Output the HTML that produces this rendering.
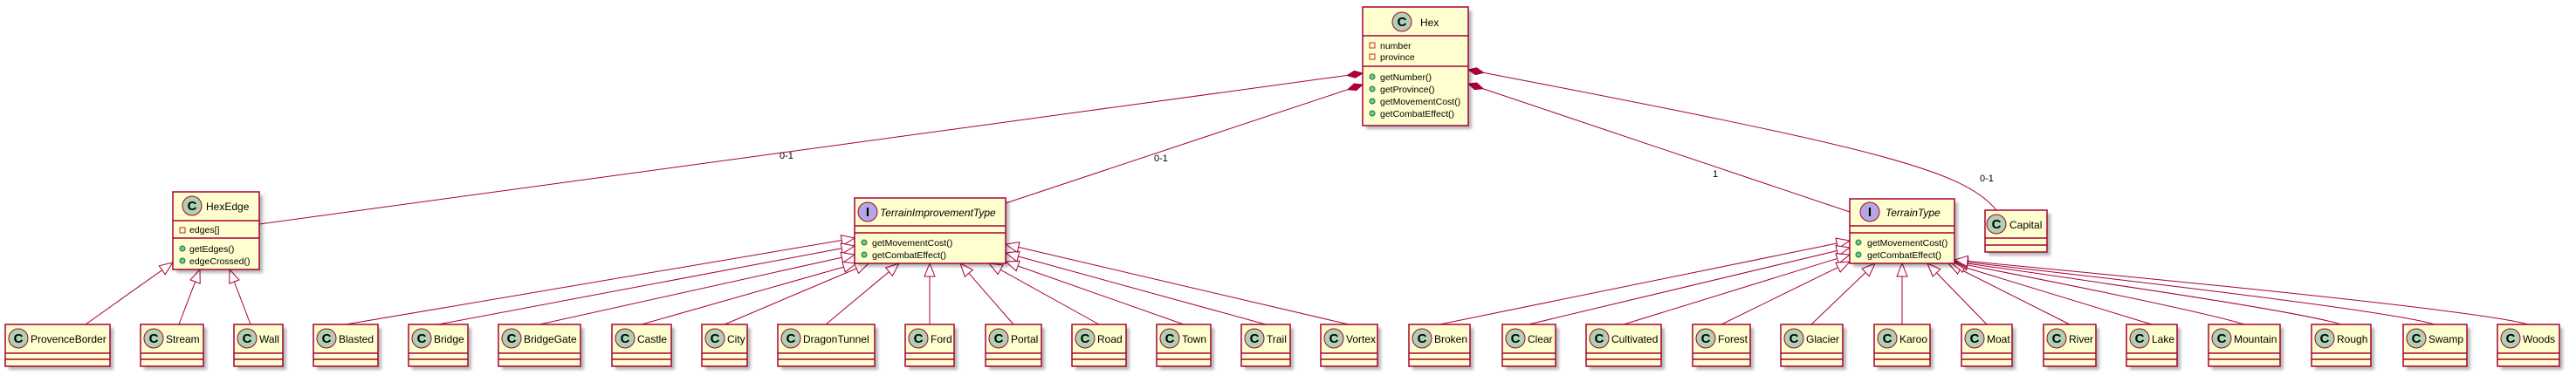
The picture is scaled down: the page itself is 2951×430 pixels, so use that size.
<!DOCTYPE html>
<html><head><meta charset="utf-8">
<style>
html,body{margin:0;padding:0;background:#fff;}
svg{display:block;}
.b{fill:#FEFECE;stroke:#A80036;stroke-width:1.5;}
.s{fill:#000;opacity:.28;filter:url(#bl);}
.l{stroke:#A80036;stroke-width:1.5;}
.ci{fill:#ADD1B2;stroke:#A80036;stroke-width:1;}
.ii{fill:#B4A7E5;stroke:#A80036;stroke-width:1;}
.ct{font:bold 15px "Liberation Sans",sans-serif;text-anchor:middle;fill:#000;}
.n{font:12px "Liberation Sans",sans-serif;fill:#000;}
.it{font:italic 12px "Liberation Sans",sans-serif;fill:#000;}
.m{font:10.5px "Liberation Sans",sans-serif;fill:#000;}
.lab{font:11px "Liberation Sans",sans-serif;fill:#000;}
.gd{fill:#84BE84;stroke:#038048;stroke-width:1;}
.rs{fill:none;stroke:#C82930;stroke-width:1;}
.e{fill:none;stroke:#A80036;stroke-width:1;}
</style></head><body>
<svg id="d" width="2951" height="430" xmlns="http://www.w3.org/2000/svg">
<defs><filter id="bl" x="-10%" y="-10%" width="130%" height="130%"><feGaussianBlur stdDeviation="1.5"/></filter></defs>
<g id="edges"></g>

<rect class="s" x="1565" y="12" width="121" height="136"/>
<rect class="b" x="1561" y="8" width="121" height="136"/>
<line class="l" x1="1561" y1="41" x2="1682" y2="41"/>
<line class="l" x1="1561" y1="76" x2="1682" y2="76"/>
<circle class="ci" cx="1606" cy="25" r="11"/><text class="ct" x="1606" y="30">C</text>
<text class="n" x="1627" y="30">Hex</text>
<rect class="rs" x="1569" y="49" width="6" height="6"/><text class="m" x="1581" y="56">number</text>
<rect class="rs" x="1569" y="62" width="6" height="6"/><text class="m" x="1581" y="69">province</text>
<circle class="gd" cx="1572" cy="88" r="3"/><text class="m" x="1581" y="92">getNumber()</text>
<circle class="gd" cx="1572" cy="102" r="3"/><text class="m" x="1581" y="106">getProvince()</text>
<circle class="gd" cx="1572" cy="116" r="3"/><text class="m" x="1581" y="120">getMovementCost()</text>
<circle class="gd" cx="1572" cy="130" r="3"/><text class="m" x="1581" y="134">getCombatEffect()</text>

<rect class="s" x="202" y="224" width="99" height="89"/>
<rect class="b" x="198" y="220" width="99" height="89"/>
<line class="l" x1="198" y1="253" x2="297" y2="253"/>
<line class="l" x1="198" y1="273" x2="297" y2="273"/>
<circle class="ci" cx="220" cy="236" r="11"/><text class="ct" x="220" y="241">C</text>
<text class="n" x="236" y="241">HexEdge</text>
<rect class="rs" x="206" y="261" width="6" height="6"/><text class="m" x="217" y="267">edges[]</text>
<circle class="gd" cx="209" cy="285" r="3"/><text class="m" x="217" y="289">getEdges()</text>
<circle class="gd" cx="209" cy="299" r="3"/><text class="m" x="217" y="303">edgeCrossed()</text>

<rect class="s" x="983" y="231" width="173" height="75"/>
<rect class="b" x="979" y="227" width="173" height="75"/>
<line class="l" x1="979" y1="259" x2="1152" y2="259"/>
<line class="l" x1="979" y1="267" x2="1152" y2="267"/>
<circle class="ii" cx="994" cy="243" r="11"/><text class="ct" x="994" y="248">I</text>
<text class="it" x="1008" y="248">TerrainImprovementType</text>
<circle class="gd" cx="990" cy="278" r="3"/><text class="m" x="999" y="282">getMovementCost()</text>
<circle class="gd" cx="990" cy="292" r="3"/><text class="m" x="999" y="296">getCombatEffect()</text>

<rect class="s" x="2123" y="232" width="120" height="74"/>
<rect class="b" x="2119" y="228" width="120" height="74"/>
<line class="l" x1="2119" y1="259" x2="2239" y2="259"/>
<line class="l" x1="2119" y1="267" x2="2239" y2="267"/>
<circle class="ii" cx="2142" cy="243" r="11"/><text class="ct" x="2142" y="248">I</text>
<text class="it" x="2160" y="248">TerrainType</text>
<circle class="gd" cx="2129" cy="278" r="3"/><text class="m" x="2139" y="282">getMovementCost()</text>
<circle class="gd" cx="2129" cy="292" r="3"/><text class="m" x="2139" y="296">getCombatEffect()</text>

<rect class="s" x="2278" y="245" width="71" height="48"/>
<rect class="b" x="2274" y="241" width="71" height="48"/>
<line class="l" x1="2274" y1="273" x2="2345" y2="273"/>
<line class="l" x1="2274" y1="281" x2="2345" y2="281"/>
<circle class="ci" cx="2287" cy="257" r="11"/><text class="ct" x="2287" y="262">C</text>
<text class="n" x="2302" y="262">Capital</text>

<text class="lab" x="893" y="182">0-1</text>
<text class="lab" x="1322" y="185">0-1</text>
<text class="lab" x="1962" y="203">1</text>
<text class="lab" x="2268" y="208">0-1</text>

<g id="kids">
<g transform="translate(6,372)"><rect class="s" x="4" y="4" width="120" height="48"/><rect class="b" width="120" height="48"/><line class="l" x1="0" y1="33" x2="120" y2="33"/><line class="l" x1="0" y1="40" x2="120" y2="40"/><circle class="ci" cx="15" cy="16" r="11"/><text class="ct" x="15" y="21">C</text><text class="n" x="29" y="21">ProvenceBorder</text></g>
<g transform="translate(161,372)"><rect class="s" x="4" y="4" width="72" height="48"/><rect class="b" width="72" height="48"/><line class="l" x1="0" y1="33" x2="72" y2="33"/><line class="l" x1="0" y1="40" x2="72" y2="40"/><circle class="ci" cx="15" cy="16" r="11"/><text class="ct" x="15" y="21">C</text><text class="n" x="29" y="21">Stream</text></g>
<g transform="translate(268,372)"><rect class="s" x="4" y="4" width="56" height="48"/><rect class="b" width="56" height="48"/><line class="l" x1="0" y1="33" x2="56" y2="33"/><line class="l" x1="0" y1="40" x2="56" y2="40"/><circle class="ci" cx="15" cy="16" r="11"/><text class="ct" x="15" y="21">C</text><text class="n" x="29" y="21">Wall</text></g>
<g transform="translate(359,372)"><rect class="s" x="4" y="4" width="74" height="48"/><rect class="b" width="74" height="48"/><line class="l" x1="0" y1="33" x2="74" y2="33"/><line class="l" x1="0" y1="40" x2="74" y2="40"/><circle class="ci" cx="15" cy="16" r="11"/><text class="ct" x="15" y="21">C</text><text class="n" x="29" y="21">Blasted</text></g>
<g transform="translate(468,372)"><rect class="s" x="4" y="4" width="68" height="48"/><rect class="b" width="68" height="48"/><line class="l" x1="0" y1="33" x2="68" y2="33"/><line class="l" x1="0" y1="40" x2="68" y2="40"/><circle class="ci" cx="15" cy="16" r="11"/><text class="ct" x="15" y="21">C</text><text class="n" x="29" y="21">Bridge</text></g>
<g transform="translate(571,372)"><rect class="s" x="4" y="4" width="94" height="48"/><rect class="b" width="94" height="48"/><line class="l" x1="0" y1="33" x2="94" y2="33"/><line class="l" x1="0" y1="40" x2="94" y2="40"/><circle class="ci" cx="15" cy="16" r="11"/><text class="ct" x="15" y="21">C</text><text class="n" x="29" y="21">BridgeGate</text></g>
<g transform="translate(701,372)"><rect class="s" x="4" y="4" width="68" height="48"/><rect class="b" width="68" height="48"/><line class="l" x1="0" y1="33" x2="68" y2="33"/><line class="l" x1="0" y1="40" x2="68" y2="40"/><circle class="ci" cx="15" cy="16" r="11"/><text class="ct" x="15" y="21">C</text><text class="n" x="29" y="21">Castle</text></g>
<g transform="translate(804,372)"><rect class="s" x="4" y="4" width="52" height="48"/><rect class="b" width="52" height="48"/><line class="l" x1="0" y1="33" x2="52" y2="33"/><line class="l" x1="0" y1="40" x2="52" y2="40"/><circle class="ci" cx="15" cy="16" r="11"/><text class="ct" x="15" y="21">C</text><text class="n" x="29" y="21">City</text></g>
<g transform="translate(891,372)"><rect class="s" x="4" y="4" width="111" height="48"/><rect class="b" width="111" height="48"/><line class="l" x1="0" y1="33" x2="111" y2="33"/><line class="l" x1="0" y1="40" x2="111" y2="40"/><circle class="ci" cx="15" cy="16" r="11"/><text class="ct" x="15" y="21">C</text><text class="n" x="29" y="21">DragonTunnel</text></g>
<g transform="translate(1037,372)"><rect class="s" x="4" y="4" width="56" height="48"/><rect class="b" width="56" height="48"/><line class="l" x1="0" y1="33" x2="56" y2="33"/><line class="l" x1="0" y1="40" x2="56" y2="40"/><circle class="ci" cx="15" cy="16" r="11"/><text class="ct" x="15" y="21">C</text><text class="n" x="29" y="21">Ford</text></g>
<g transform="translate(1129,372)"><rect class="s" x="4" y="4" width="64" height="48"/><rect class="b" width="64" height="48"/><line class="l" x1="0" y1="33" x2="64" y2="33"/><line class="l" x1="0" y1="40" x2="64" y2="40"/><circle class="ci" cx="15" cy="16" r="11"/><text class="ct" x="15" y="21">C</text><text class="n" x="29" y="21">Portal</text></g>
<g transform="translate(1228,372)"><rect class="s" x="4" y="4" width="62" height="48"/><rect class="b" width="62" height="48"/><line class="l" x1="0" y1="33" x2="62" y2="33"/><line class="l" x1="0" y1="40" x2="62" y2="40"/><circle class="ci" cx="15" cy="16" r="11"/><text class="ct" x="15" y="21">C</text><text class="n" x="29" y="21">Road</text></g>
<g transform="translate(1325,372)"><rect class="s" x="4" y="4" width="62" height="48"/><rect class="b" width="62" height="48"/><line class="l" x1="0" y1="33" x2="62" y2="33"/><line class="l" x1="0" y1="40" x2="62" y2="40"/><circle class="ci" cx="15" cy="16" r="11"/><text class="ct" x="15" y="21">C</text><text class="n" x="29" y="21">Town</text></g>
<g transform="translate(1422,372)"><rect class="s" x="4" y="4" width="56" height="48"/><rect class="b" width="56" height="48"/><line class="l" x1="0" y1="33" x2="56" y2="33"/><line class="l" x1="0" y1="40" x2="56" y2="40"/><circle class="ci" cx="15" cy="16" r="11"/><text class="ct" x="15" y="21">C</text><text class="n" x="29" y="21">Trail</text></g>
<g transform="translate(1513,372)"><rect class="s" x="4" y="4" width="65" height="48"/><rect class="b" width="65" height="48"/><line class="l" x1="0" y1="33" x2="65" y2="33"/><line class="l" x1="0" y1="40" x2="65" y2="40"/><circle class="ci" cx="15" cy="16" r="11"/><text class="ct" x="15" y="21">C</text><text class="n" x="29" y="21">Vortex</text></g>
<g transform="translate(1614,372)"><rect class="s" x="4" y="4" width="70" height="48"/><rect class="b" width="70" height="48"/><line class="l" x1="0" y1="33" x2="70" y2="33"/><line class="l" x1="0" y1="40" x2="70" y2="40"/><circle class="ci" cx="15" cy="16" r="11"/><text class="ct" x="15" y="21">C</text><text class="n" x="29" y="21">Broken</text></g>
<g transform="translate(1721,372)"><rect class="s" x="4" y="4" width="61" height="48"/><rect class="b" width="61" height="48"/><line class="l" x1="0" y1="33" x2="61" y2="33"/><line class="l" x1="0" y1="40" x2="61" y2="40"/><circle class="ci" cx="15" cy="16" r="11"/><text class="ct" x="15" y="21">C</text><text class="n" x="29" y="21">Clear</text></g>
<g transform="translate(1817,372)"><rect class="s" x="4" y="4" width="86" height="48"/><rect class="b" width="86" height="48"/><line class="l" x1="0" y1="33" x2="86" y2="33"/><line class="l" x1="0" y1="40" x2="86" y2="40"/><circle class="ci" cx="15" cy="16" r="11"/><text class="ct" x="15" y="21">C</text><text class="n" x="29" y="21">Cultivated</text></g>
<g transform="translate(1939,372)"><rect class="s" x="4" y="4" width="66" height="48"/><rect class="b" width="66" height="48"/><line class="l" x1="0" y1="33" x2="66" y2="33"/><line class="l" x1="0" y1="40" x2="66" y2="40"/><circle class="ci" cx="15" cy="16" r="11"/><text class="ct" x="15" y="21">C</text><text class="n" x="29" y="21">Forest</text></g>
<g transform="translate(2040,372)"><rect class="s" x="4" y="4" width="71" height="48"/><rect class="b" width="71" height="48"/><line class="l" x1="0" y1="33" x2="71" y2="33"/><line class="l" x1="0" y1="40" x2="71" y2="40"/><circle class="ci" cx="15" cy="16" r="11"/><text class="ct" x="15" y="21">C</text><text class="n" x="29" y="21">Glacier</text></g>
<g transform="translate(2147,372)"><rect class="s" x="4" y="4" width="64" height="48"/><rect class="b" width="64" height="48"/><line class="l" x1="0" y1="33" x2="64" y2="33"/><line class="l" x1="0" y1="40" x2="64" y2="40"/><circle class="ci" cx="15" cy="16" r="11"/><text class="ct" x="15" y="21">C</text><text class="n" x="29" y="21">Karoo</text></g>
<g transform="translate(2247,372)"><rect class="s" x="4" y="4" width="58" height="48"/><rect class="b" width="58" height="48"/><line class="l" x1="0" y1="33" x2="58" y2="33"/><line class="l" x1="0" y1="40" x2="58" y2="40"/><circle class="ci" cx="15" cy="16" r="11"/><text class="ct" x="15" y="21">C</text><text class="n" x="29" y="21">Moat</text></g>
<g transform="translate(2341,372)"><rect class="s" x="4" y="4" width="60" height="48"/><rect class="b" width="60" height="48"/><line class="l" x1="0" y1="33" x2="60" y2="33"/><line class="l" x1="0" y1="40" x2="60" y2="40"/><circle class="ci" cx="15" cy="16" r="11"/><text class="ct" x="15" y="21">C</text><text class="n" x="29" y="21">River</text></g>
<g transform="translate(2436,372)"><rect class="s" x="4" y="4" width="58" height="48"/><rect class="b" width="58" height="48"/><line class="l" x1="0" y1="33" x2="58" y2="33"/><line class="l" x1="0" y1="40" x2="58" y2="40"/><circle class="ci" cx="15" cy="16" r="11"/><text class="ct" x="15" y="21">C</text><text class="n" x="29" y="21">Lake</text></g>
<g transform="translate(2530,372)"><rect class="s" x="4" y="4" width="82" height="48"/><rect class="b" width="82" height="48"/><line class="l" x1="0" y1="33" x2="82" y2="33"/><line class="l" x1="0" y1="40" x2="82" y2="40"/><circle class="ci" cx="15" cy="16" r="11"/><text class="ct" x="15" y="21">C</text><text class="n" x="29" y="21">Mountain</text></g>
<g transform="translate(2648,372)"><rect class="s" x="4" y="4" width="68" height="48"/><rect class="b" width="68" height="48"/><line class="l" x1="0" y1="33" x2="68" y2="33"/><line class="l" x1="0" y1="40" x2="68" y2="40"/><circle class="ci" cx="15" cy="16" r="11"/><text class="ct" x="15" y="21">C</text><text class="n" x="29" y="21">Rough</text></g>
<g transform="translate(2753,372)"><rect class="s" x="4" y="4" width="73" height="48"/><rect class="b" width="73" height="48"/><line class="l" x1="0" y1="33" x2="73" y2="33"/><line class="l" x1="0" y1="40" x2="73" y2="40"/><circle class="ci" cx="15" cy="16" r="11"/><text class="ct" x="15" y="21">C</text><text class="n" x="29" y="21">Swamp</text></g>
<g transform="translate(2861,372)"><rect class="s" x="4" y="4" width="71" height="48"/><rect class="b" width="71" height="48"/><line class="l" x1="0" y1="33" x2="71" y2="33"/><line class="l" x1="0" y1="40" x2="71" y2="40"/><circle class="ci" cx="15" cy="16" r="11"/><text class="ct" x="15" y="21">C</text><text class="n" x="29" y="21">Woods</text></g>
</g>
</svg>
<script>
(function(){
var g=document.getElementById("edges"),out="";
function tri(tx,ty,dx,dy){var L=Math.hypot(dx,dy);dx/=L;dy/=L;var bx=tx+dx*15,by=ty+dy*15,px=-dy*6,py=dx*6;
 return '<polygon points="'+tx+','+ty+' '+(bx+px)+','+(by+py)+' '+(bx-px)+','+(by-py)+'" fill="#fff" stroke="#A80036" stroke-width="1"/>';}
function gen(cx,tx,ty,curve){var cy=372;
 if(curve){var qx=cx-55,qy=355;var L=Math.hypot(qx-tx,qy-ty),dx=(qx-tx)/L,dy=(qy-ty)/L;
  out+='<path class="e" d="M'+(tx+dx*15)+','+(ty+dy*15)+' Q'+qx+','+qy+' '+cx+','+cy+'"/>';out+=tri(tx,ty,qx-tx,qy-ty);}
 else{var L=Math.hypot(cx-tx,cy-ty),dx=(cx-tx)/L,dy=(cy-ty)/L;
  out+='<line class="e" x1="'+(tx+dx*15)+'" y1="'+(ty+dy*15)+'" x2="'+cx+'" y2="'+cy+'"/>';out+=tri(tx,ty,cx-tx,cy-ty);}}
function comp(x1,y1,x2,y2,path){var dx=x2-x1,dy=y2-y1,L=Math.hypot(dx,dy);dx/=L;dy/=L;
 var mx=x1+dx*9,my=y1+dy*9,ex=x1+dx*18,ey=y1+dy*18,px=-dy*4,py=dx*4;
 out+='<polygon points="'+x1+','+y1+' '+(mx+px)+','+(my+py)+' '+ex+','+ey+' '+(mx-px)+','+(my-py)+'" fill="#A80036" stroke="#A80036"/>';
 out+=path?'<path class="e" d="M'+ex+','+ey+' '+path+'"/>':'<line class="e" x1="'+ex+'" y1="'+ey+'" x2="'+x2+'" y2="'+y2+'"/>';}
comp(1561,84,297,257);
comp(1561,97,1152,233);
comp(1682,96,2119,243);
comp(1682,80,2000,140,"C2150,170 2250,195 2287,241");
gen(98,198,301);gen(205,229,309);gen(287,263,309);
gen(396,979,273);gen(502,979,282);gen(618,979,292);gen(735,981,302);gen(830,995,302);gen(946,1030,302);
gen(1065,1065,302);gen(1161,1100,302);gen(1259,1133,302);gen(1356,1152,300);gen(1450,1152,290);gen(1545,1152,280);
gen(1649,2119,276);gen(1751,2119,284);gen(1860,2119,292);gen(1972,2119,300);gen(2075,2148,302);gen(2179,2179,302);
gen(2276,2208,302);gen(2371,2232,302);gen(2465,2236,302,1);gen(2571,2239,301,1);gen(2682,2239,300,1);gen(2789,2239,299,1);gen(2896,2239,298,1);
g.innerHTML=out;
})();
</script>
</body></html>
